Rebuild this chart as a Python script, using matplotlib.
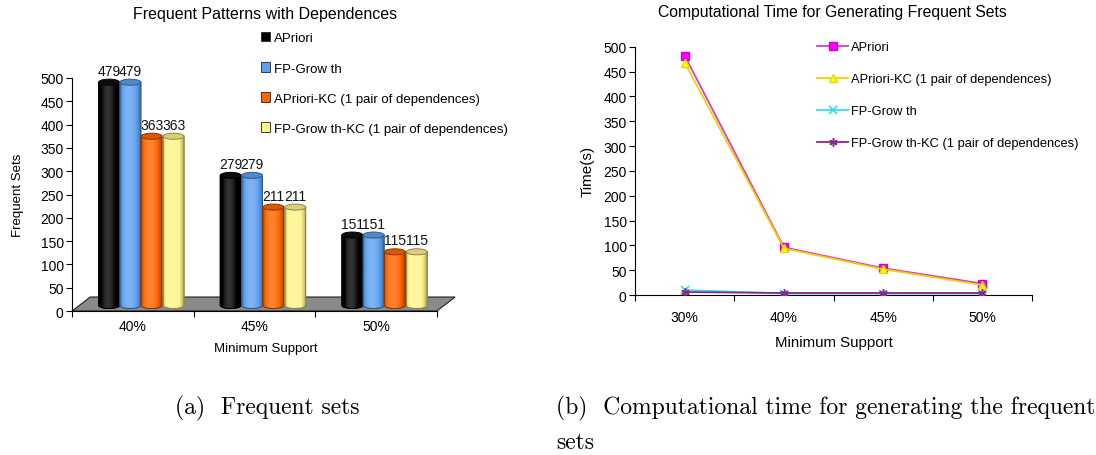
import numpy as np
import matplotlib
matplotlib.use("Agg")
import matplotlib.pyplot as plt
from matplotlib.patches import Polygon, Ellipse, Patch
from matplotlib.colors import to_rgb

# ---------------- data ----------------
bar_categories = ["40%", "45%", "50%"]
bar_series = ["APriori", "FP-Grow th", "APriori-KC (1 pair of dependences)",
              "FP-Grow th-KC (1 pair of dependences)"]
apriori_sets = [479, 279, 151]
fpgrowth_sets = [479, 279, 151]
apriori_kc_sets = [363, 211, 115]
fpgrowth_kc_sets = [363, 211, 115]
bar_colors = ["#000000", "#5EA0F0", "#FF6600", "#FFF58C"]

line_categories = ["30%", "40%", "45%", "50%"]
apriori_time = [482, 96, 54, 23]
apriori_kc_time = [468, 94, 52, 20]
fpgrowth_time = [10, 3, 3, 3]
fpgrowth_kc_time = [6, 4, 4, 4]

FONT = "Liberation Sans"
plt.rcParams["font.family"] = [FONT, "DejaVu Sans"]

fig = plt.figure(figsize=(10.96, 4.56), dpi=100)

# ---------------- left: 3D-like cylinder bars ----------------
axL = fig.add_axes([72 / 1096, (456 - 312) / 456, (460 - 72) / 1096, (312 - 79) / 456])
axL.set_xlim(0, 3.19)
axL.set_ylim(0, 500)

base = 12.0
eh = 13.0
offsets = [0.305, 0.48, 0.655, 0.835]
bw = 0.172


def shade(color, f):
    c = np.array(to_rgb(color))
    if f >= 1:
        return c + (1 - c) * min(f - 1, 1)
    return c * f


def cylinder(ax, cx, w, height, color, z):
    x0, x1 = cx - w / 2, cx + w / 2
    top = base + height
    th = np.linspace(np.pi, 2 * np.pi, 40)
    bx = cx + w / 2 * np.cos(th)
    by = base + eh / 2 * np.sin(th)
    verts = [(x0, top)] + list(zip(bx, by)) + [(x1, top)]
    dark = shade(color, 0.55) if color != "#000000" else (0, 0, 0)
    poly = Polygon(verts, closed=True, facecolor=color, edgecolor=dark, lw=0.7, zorder=z)
    ax.add_patch(poly)
    u = np.linspace(0, 1, 64)
    prof = 0.62 + 0.58 * np.sin(np.pi * u ** 0.8) ** 0.7
    grad = np.array([[shade(color, f) for f in prof]])
    im = ax.imshow(grad, extent=(x0, x1, base - eh / 2, top), aspect="auto",
                   interpolation="bilinear", zorder=z + 0.1)
    im.set_clip_path(poly)
    outline = Polygon(verts, closed=True, facecolor="none", edgecolor=dark, lw=0.7, zorder=z + 0.2)
    ax.add_patch(outline)
    topc = shade(color, 0.85) if color != "#000000" else (0.05, 0.05, 0.05)
    ax.add_patch(Ellipse((cx, top), w, eh, facecolor=topc, edgecolor=dark, lw=0.7, zorder=z + 0.3))


# floor
floor = Polygon([(0, 0), (3.0, 0), (3.15, 30), (0.15, 30)], closed=True,
                facecolor="#8a8a8a", edgecolor="#202020", lw=0.8, zorder=1, clip_on=False)
axL.add_patch(floor)

all_sets = [apriori_sets, fpgrowth_sets, apriori_kc_sets, fpgrowth_kc_sets]
for i in range(len(bar_categories)):
    for j, vals in enumerate(all_sets):
        cx = i + offsets[j]
        cylinder(axL, cx, bw, vals[i], bar_colors[j], 3 + j)
        axL.text(cx, base + vals[i] + eh / 2 + 3, str(vals[i]), ha="center", va="bottom",
                 fontsize=10, color="#111111")

axL.set_xlim(0, 3.19)
axL.set_ylim(0, 500)
axL.set_aspect("auto")
for s in ["top", "right"]:
    axL.spines[s].set_visible(False)
axL.spines["bottom"].set_bounds(0, 3)
axL.spines["left"].set_linewidth(0.8)
axL.spines["bottom"].set_linewidth(0.8)
axL.set_yticks(np.arange(0, 501, 50))
axL.set_xticks([0, 1, 2, 3])
axL.set_xticklabels([])
axL.set_xticks([0.5, 1.5, 2.5], minor=True)
axL.set_xticklabels(bar_categories, minor=True)
axL.tick_params(axis="x", which="minor", length=0, pad=6, labelsize=10)
axL.tick_params(axis="x", which="major", length=4, direction="out")
axL.tick_params(axis="y", length=4, direction="out", labelsize=10, pad=2)
axL.set_xlabel("Minimum Support", fontsize=9.5, labelpad=6)
axL.set_ylabel("Frequent Sets", fontsize=9.5, labelpad=12)
fig.text(265 / 1096, 1 - 15 / 456, "Frequent Patterns with Dependences", ha="center",
         va="center", fontsize=11.5)

handlesL = [Patch(facecolor=c, edgecolor="#222222", lw=0.6) for c in bar_colors]
fig.legend(handlesL, bar_series, loc="upper left", bbox_to_anchor=(252 / 1096, 1 - 24 / 456),
           frameon=False, fontsize=9.5, handlelength=0.7, handleheight=0.7,
           handletextpad=0.3, labelspacing=1.35, borderpad=0.2)

# ---------------- right: line chart ----------------
axR = fig.add_axes([635 / 1096, (456 - 296) / 456, 397 / 1096, (296 - 47.7) / 456])
xs = np.arange(len(line_categories))
axR.plot(xs, apriori_time, color="#D040D0", lw=1.3, marker="s", markersize=6,
         markerfacecolor="#FF00FF", markeredgecolor="#CC00CC", label="APriori", zorder=3)
axR.plot(xs, apriori_kc_time, color="#F5D000", lw=1.3, marker="^", markersize=6,
         markerfacecolor="#FFFF00", markeredgecolor="#E8D800",
         label="APriori-KC (1 pair of dependences)", zorder=4)
axR.plot(xs, fpgrowth_time, color="#33DDEE", lw=1.3, marker="x", markersize=6,
         markeredgewidth=1.2, label="FP-Grow th", zorder=3)
axR.plot(xs, fpgrowth_kc_time, color="#862A8A", lw=1.3, marker=(6, 2, 0), markersize=6,
         markeredgewidth=1.1, label="FP-Grow th-KC (1 pair of dependences)", zorder=5)

axR.set_xlim(-0.5, 3.5)
axR.set_ylim(0, 500)
for s in ["top", "right"]:
    axR.spines[s].set_visible(False)
axR.spines["left"].set_linewidth(0.8)
axR.spines["bottom"].set_linewidth(0.8)
axR.set_yticks(np.arange(0, 501, 50))
axR.set_xticks([-0.5, 0.5, 1.5, 2.5, 3.5])
axR.set_xticklabels([])
axR.set_xticks(xs, minor=True)
axR.set_xticklabels(line_categories, minor=True)
axR.tick_params(axis="x", which="minor", length=0, pad=11, labelsize=10)
axR.tick_params(axis="x", which="major", length=4, direction="out")
axR.tick_params(axis="y", length=4, direction="out", labelsize=10, pad=2)
axR.set_xlabel("Minimum Support", fontsize=10.8, labelpad=8)
axR.set_ylabel("Time(s)", fontsize=11, labelpad=6)
fig.text(832 / 1096, 1 - 12 / 456, "Computational Time for Generating Frequent Sets",
         ha="center", va="center", fontsize=11.3)
axR.legend(loc="upper left", bbox_to_anchor=(808 / 1096, 1 - 33 / 456),
           bbox_transform=fig.transFigure, frameon=False, fontsize=9.3, handlelength=2.4,
           handletextpad=0.2, labelspacing=1.55, borderpad=0.2)

# ---------------- captions ----------------
cap = dict(family="cmr10", fontsize=17, va="baseline", ha="left")
fig.text(175 / 1096, 1 - 414 / 456, "(a)  Frequent sets", **cap)
fig.text(556 / 1096, 1 - 414 / 456, "(b)  Computational time for generating the frequent", **cap)
fig.text(556 / 1096, 1 - 449 / 456, "sets", **cap)

fig.savefig("out.png", dpi=100)
